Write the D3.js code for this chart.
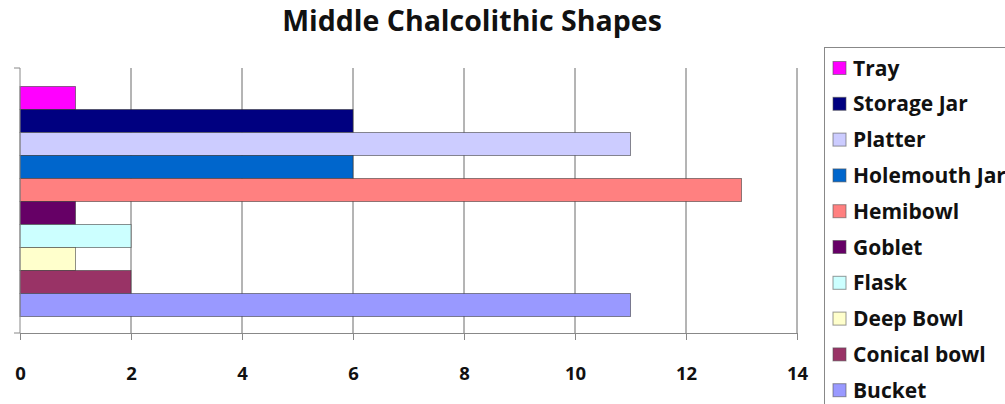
<!DOCTYPE html>
<html>
<head>
<meta charset="utf-8">
<script src="https://cdn.jsdelivr.net/npm/d3@7/dist/d3.min.js"></script>
<style>
  html, body { margin: 0; padding: 0; background: #fff; }
  svg { display: block; font-family: "Open Sans", Lato, sans-serif; }
</style>
</head>
<body>
<svg id="chart" width="1005" height="404"></svg>
<script>
// Vessel shape counts, listed top to bottom as drawn
const shapes = ["Tray", "Storage Jar", "Platter", "Holemouth Jar", "Hemibowl",
                "Goblet", "Flask", "Deep Bowl", "Conical bowl", "Bucket"];
const counts = [1, 6, 11, 6, 13, 1, 2, 1, 2, 11];
const colors = ["#FF00FF", "#000080", "#CCCCFF", "#0066CC", "#FF8080",
                "#660066", "#CCFFFF", "#FFFFCC", "#993366", "#9999FF"];
const xTicks = [0, 2, 4, 6, 8, 10, 12, 14];
const title = "Middle Chalcolithic Shapes";

const svg = d3.select("#chart");
const plot = { left: 20, right: 797, top: 68, bottom: 333 };

const x = d3.scaleLinear().domain([0, 14]).range([plot.left, plot.right]);
const y = d3.scaleBand().domain(shapes).range([86.5, 316.5]).padding(0);
const color = d3.scaleOrdinal().domain(shapes).range(colors);

// Title
svg.append("text")
  .attr("x", 472).attr("y", 31)
  .attr("text-anchor", "middle")
  .attr("font-size", 28.5).attr("font-weight", "bold")
  .attr("fill", "#111")
  .text(title);

// Vertical gridlines
svg.append("g")
  .selectAll("line")
  .data(xTicks.slice(1))
  .join("line")
  .attr("x1", d => x(d)).attr("x2", d => x(d))
  .attr("y1", plot.top).attr("y2", plot.bottom)
  .attr("stroke", "#6a6a6a").attr("stroke-width", 1);

// Bars
svg.append("g")
  .selectAll("rect")
  .data(shapes.map((s, i) => ({ s, v: counts[i] })))
  .join("rect")
  .attr("x", x(0))
  .attr("y", d => y(d.s))
  .attr("width", d => x(d.v) - x(0))
  .attr("height", y.bandwidth())
  .attr("fill", d => color(d.s))
  .attr("stroke", "#333")
  .attr("stroke-opacity", 0.55)
  .attr("stroke-width", 1);

// X axis
const xAxis = d3.axisBottom(x).tickValues(xTicks).tickSize(7).tickPadding(27).tickSizeOuter(0);
const gx = svg.append("g")
  .attr("transform", `translate(0,${plot.bottom})`)
  .call(xAxis);
gx.select(".domain").attr("stroke", "#888");
gx.selectAll(".tick line").attr("stroke", "#888");
gx.selectAll(".tick text")
  .attr("font-family", "\"Open Sans\", sans-serif")
  .attr("font-size", 18.5).attr("font-weight", "bold").attr("fill", "#111");

// Y axis line with end ticks
const yAxis = svg.append("g");
yAxis.append("line")
  .attr("x1", plot.left).attr("x2", plot.left)
  .attr("y1", plot.top).attr("y2", plot.bottom)
  .attr("stroke", "#888");
yAxis.selectAll("line.end")
  .data([plot.top, plot.bottom])
  .join("line").attr("class", "end")
  .attr("x1", plot.left - 6).attr("x2", plot.left)
  .attr("y1", d => d).attr("y2", d => d)
  .attr("stroke", "#888");

// Legend
const legend = svg.append("g");
legend.append("rect")
  .attr("x", 824.5).attr("y", 47.5)
  .attr("width", 200).attr("height", 380)
  .attr("fill", "#fff").attr("stroke", "#888");
const item = legend.selectAll("g.item")
  .data(shapes)
  .join("g").attr("class", "item")
  .attr("transform", (d, i) => `translate(833,${68 + i * 35.8})`);
item.append("rect")
  .attr("x", 0).attr("y", -6.5)
  .attr("width", 13).attr("height", 13)
  .attr("fill", d => color(d))
  .attr("stroke", "#555").attr("stroke-opacity", 0.6);
item.append("text")
  .attr("x", 20).attr("y", 7.5)
  .attr("font-size", 21).attr("font-weight", "bold")
  .attr("fill", "#111")
  .text(d => d);
</script>
</body>
</html>
